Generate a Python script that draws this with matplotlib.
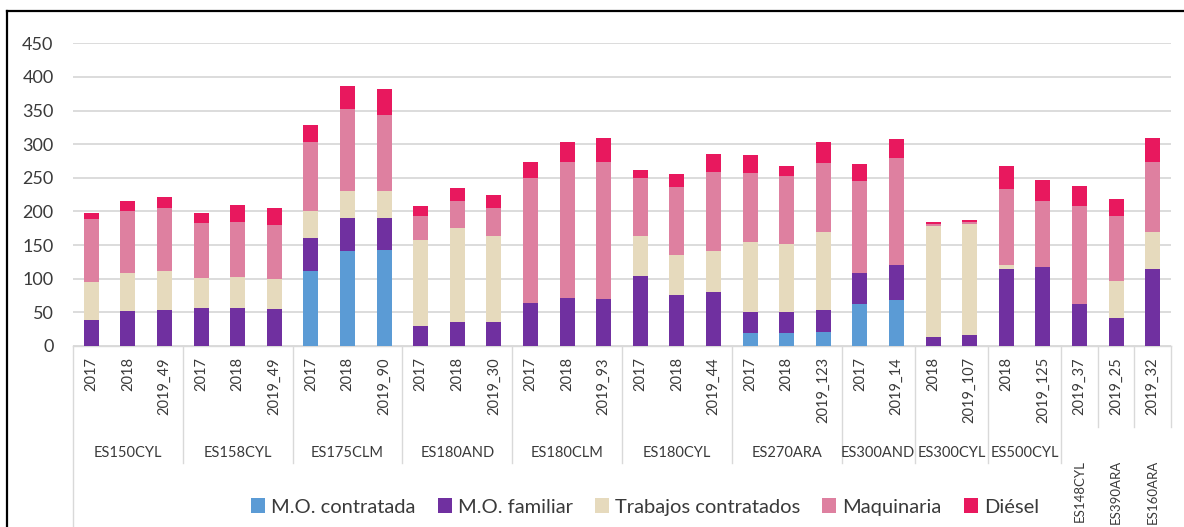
import matplotlib
matplotlib.use("Agg")
import matplotlib.pyplot as plt
import matplotlib.transforms as mtransforms
from matplotlib.lines import Line2D
import numpy as np

plt.rcParams['font.family'] = ['Lato', 'DejaVu Sans']

# categories
year_labels = ['2017', '2018', '2019_49', '2017', '2018', '2019_49',
               '2017', '2018', '2019_90', '2017', '2018', '2019_30',
               '2017', '2018', '2019_93', '2017', '2018', '2019_44',
               '2017', '2018', '2019_123', '2017', '2019_14',
               '2018', '2019_107', '2018', '2019_125',
               '2019_37', '2019_25', '2019_32']
group_names = ['ES150CYL', 'ES158CYL', 'ES175CLM', 'ES180AND', 'ES180CLM',
               'ES180CYL', 'ES270ARA', 'ES300AND', 'ES300CYL', 'ES500CYL',
               'ES148CYL', 'ES390ARA', 'ES160ARA']
group_sizes = [3, 3, 3, 3, 3, 3, 3, 2, 2, 2, 1, 1, 1]

# series
mo_contratada = [0, 0, 0, 0, 0, 0, 111, 141, 142, 0, 0, 0, 0, 0, 0,
                 0, 0, 0, 19, 19, 21, 62, 68, 0, 0, 0, 0, 0, 0, 0]
mo_familiar = [38, 52, 53, 56, 57, 55, 50, 49, 49, 29, 35, 36, 64, 71, 70,
               104, 76, 80, 31, 31, 32, 47, 52, 14, 17, 115, 117, 62, 42, 115]
trabajos = [57, 57, 59, 45, 45, 45, 40, 40, 40, 128, 140, 128, 0, 0, 0,
            60, 60, 61, 105, 102, 117, 0, 0, 164, 164, 5, 0, 0, 55, 54]
maquinaria = [94, 91, 93, 82, 83, 80, 103, 123, 113, 36, 40, 41, 186, 203, 203,
              86, 101, 117, 102, 100, 102, 136, 160, 4, 3, 113, 99, 146, 96, 105]
diesel = [8, 15, 16, 15, 24, 25, 25, 33, 38, 15, 20, 20, 24, 30, 36,
          11, 18, 27, 27, 16, 32, 26, 27, 2, 3, 35, 31, 30, 25, 35]

series = [('M.O. contratada', mo_contratada, '#5B9BD5'),
          ('M.O. familiar', mo_familiar, '#7030A0'),
          ('Trabajos contratados', trabajos, '#E6DABD'),
          ('Maquinaria', maquinaria, '#DE80A0'),
          ('Diésel', diesel, '#E8185E')]

W, H = 1184, 527
fig = plt.figure(figsize=(W / 100, H / 100), dpi=100)
ax = fig.add_axes([73 / W, 1 - 346 / H, 1098 / W, (346 - 43.3) / H])

x = np.arange(len(year_labels))
bottom = np.zeros(len(year_labels))
for name, vals, col in series:
    vals = np.array(vals, dtype=float)
    ax.bar(x, vals, bottom=bottom, width=0.41, color=col, label=name, zorder=3)
    bottom += vals

ax.set_xlim(-0.5, len(year_labels) - 0.5)
ax.set_ylim(0, 450)
ax.set_yticks(range(0, 451, 50))
ax.yaxis.grid(True, color='#D9D9D9', linewidth=1.3, zorder=0)
for s in ['top', 'right', 'left']:
    ax.spines[s].set_visible(False)
ax.spines['bottom'].set_color('#D9D9D9')
ax.spines['bottom'].set_linewidth(1.0)
ax.tick_params(axis='y', length=0, pad=14, labelsize=13, labelcolor='#3A3A3A')
ax.set_xticks(x)
ax.set_xticklabels(year_labels, rotation=90, fontsize=10.5, color='#3A3A3A')
ax.tick_params(axis='x', length=0, pad=8)

# multi-level category axis
trans = mtransforms.blended_transform_factory(ax.transData, fig.transFigure)
def fy(px):
    return 1 - px / H

ax.add_line(Line2D([-0.5, -0.5], [fy(346), fy(527)], transform=trans,
                   color='#D9D9D9', lw=1.0, clip_on=False))
pos = -0.5
for name, n in zip(group_names, group_sizes):
    end = pos + n
    low = 463 if n > 1 else 427
    ax.add_line(Line2D([end, end], [fy(346), fy(low)], transform=trans,
                       color='#D9D9D9', lw=1.0, clip_on=False))
    if n > 1:
        ax.text((pos + end) / 2, fy(453), name, transform=trans, ha='center',
                va='center', fontsize=10.5, color='#3A3A3A', clip_on=False)
    else:
        ax.text((pos + end) / 2, fy(460), name, transform=trans, ha='center',
                va='top', rotation=90, fontsize=9.5, color='#3A3A3A', clip_on=False)
    pos = end

fig.legend(loc='center', bbox_to_anchor=(645 / W, fy(507)), ncol=5, frameon=False,
           fontsize=14.5, handlelength=0.7, handleheight=0.7, handletextpad=0.3,
           columnspacing=1.1, labelcolor='#3A3A3A')

# outer frame of the picture
fig.add_artist(Line2D([6.5 / W, 1], [fy(10.5), fy(10.5)], transform=fig.transFigure,
                      color='black', lw=1.6))
fig.add_artist(Line2D([6.5 / W, 6.5 / W], [fy(10.5), 0], transform=fig.transFigure,
                      color='black', lw=1.6))

fig.savefig('out.png', dpi=100)
